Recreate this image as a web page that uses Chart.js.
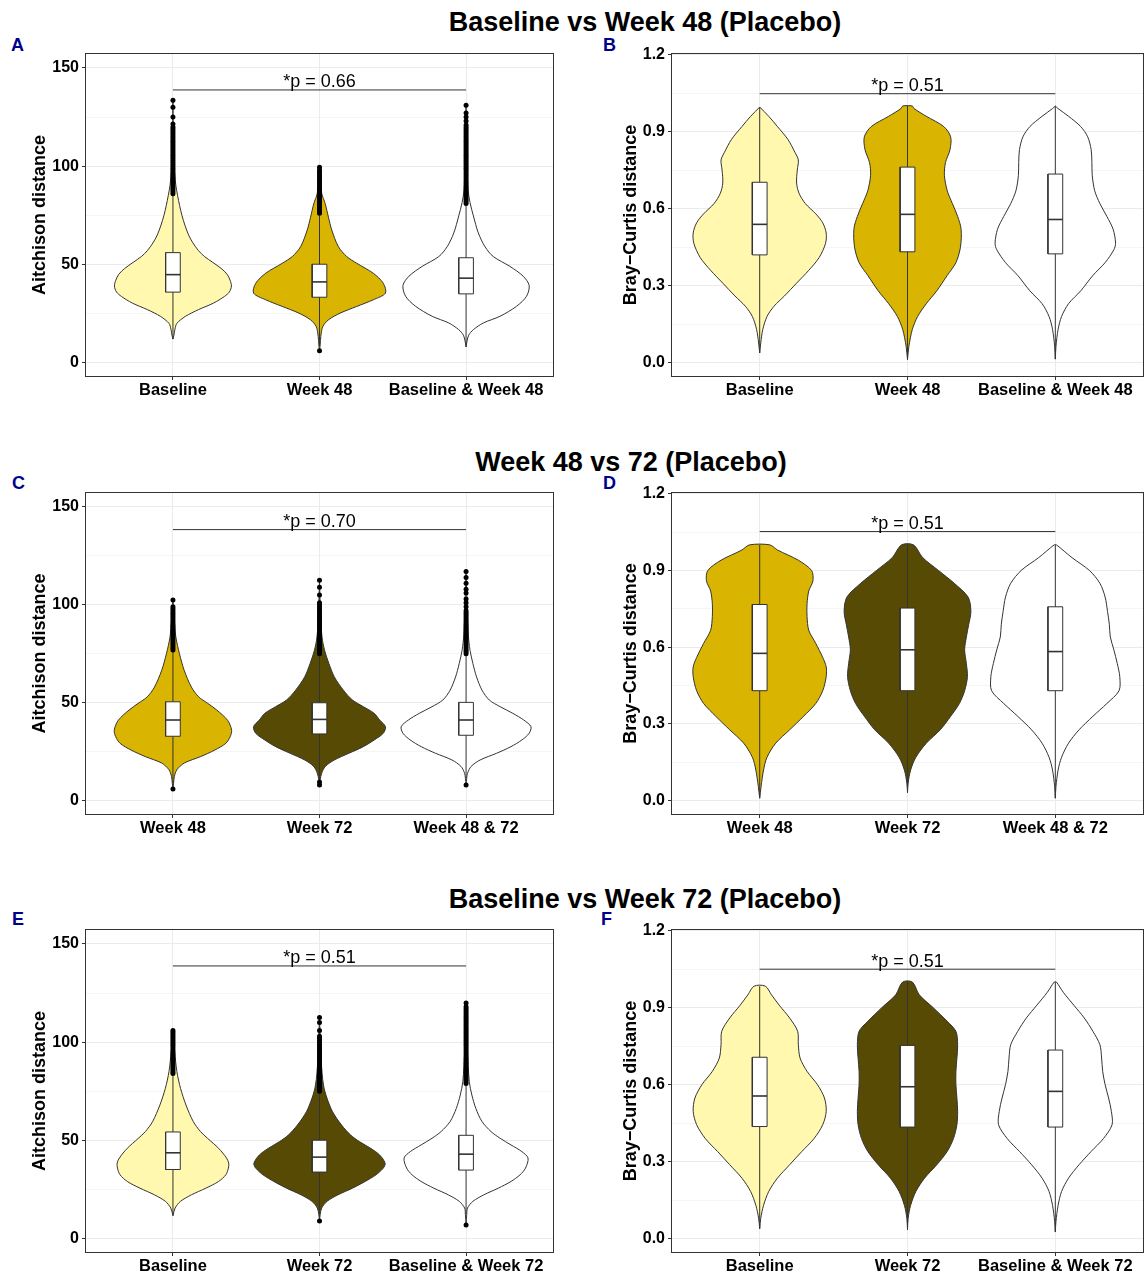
<!DOCTYPE html>
<html>
<head>
<meta charset="utf-8">
<title>Placebo beta diversity violins</title>
<script src="https://cdn.jsdelivr.net/npm/chart.js@4.4.1/dist/chart.umd.min.js"></script>
<style>
  body { margin: 0; background: #fff; font-family: "Liberation Sans", Arial, Helvetica, sans-serif; }
  #page { position: relative; width: 1145px; height: 1273px; overflow: hidden; background: #fff; }
  .title { position: absolute; width: 800px; text-align: center; font-size: 27px; line-height: 27px; font-weight: bold; color: #000; }
  .tag { position: absolute; font-size: 18px; line-height: 18px; font-weight: bold; color: #00008B; }
  canvas { position: absolute; }
</style>
</head>
<body>
<div id="page">
  <div class="title" style="left:245px;top:9px">Baseline vs Week 48 (Placebo)</div>
  <div class="title" style="left:231px;top:449px">Week 48 vs 72 (Placebo)</div>
  <div class="title" style="left:245px;top:886px">Baseline vs Week 72 (Placebo)</div>

  <div class="tag" style="left:11px;top:36px">A</div>
  <div class="tag" style="left:603px;top:36px">B</div>
  <div class="tag" style="left:12px;top:474px">C</div>
  <div class="tag" style="left:603px;top:474px">D</div>
  <div class="tag" style="left:12px;top:910px">E</div>
  <div class="tag" style="left:601px;top:910px">F</div>

  <canvas id="pA" width="570" height="380" style="left:0;top:30px;width:570px;height:380px"></canvas>
  <canvas id="pB" width="555" height="380" style="left:590px;top:30px;width:555px;height:380px"></canvas>
  <canvas id="pC" width="570" height="380" style="left:0;top:468px;width:570px;height:380px"></canvas>
  <canvas id="pD" width="555" height="380" style="left:590px;top:468px;width:555px;height:380px"></canvas>
  <canvas id="pE" width="570" height="368" style="left:0;top:905px;width:570px;height:368px"></canvas>
  <canvas id="pF" width="555" height="368" style="left:590px;top:905px;width:555px;height:368px"></canvas>
</div>

<script>
// ---- axis ticks / categories
var aitchTicks = [0, 25, 50, 75, 100, 125, 150];
var brayTicks = [0, 0.15, 0.3, 0.45, 0.6, 0.75, 0.9, 1.05, 1.2];
var groupsA = ['Baseline', 'Week 48', 'Baseline & Week 48'];
var groupsC = ['Week 48', 'Week 72', 'Week 48 & 72'];
var groupsE = ['Baseline', 'Week 72', 'Baseline & Week 72'];

// ---- violin outlines: y = distance, w = relative density (1 = widest violin)
// panel A (Aitchison, baseline vs week 48)
var vA1y = [12, 14, 17, 20, 23.5, 27, 30.3, 33.7, 36, 39, 42, 45, 48, 51, 54, 57, 61, 65, 70, 75, 80, 85, 90, 95, 100, 110, 120, 133.5];
var vA1w = [0, .015, .03, .06, .186, .388, .615, .781, .856, .887, .866, .821, .73, .605, .479, .388, .302, .237, .181, .136, .101, .071, .045, .03, .02, .01, .005, 0];
var vA2y = [6, 9, 13.4, 18.4, 21.8, 25.2, 28.6, 32, 35.4, 40.4, 45.5, 50.6, 54, 59, 67.5, 74, 81, 86, 92, 99.7];
var vA2w = [0, .01, .02, .05, .136, .312, .564, .816, 1, .967, .816, .564, .413, .287, .186, .136, .086, .035, .02, 0];
var vA3y = [8, 11, 14, 16.8, 20.2, 23.6, 28.7, 33.8, 39.3, 44, 49, 54, 59, 66, 74.7, 81.5, 88, 100, 115, 130.8];
var vA3w = [0, .015, .04, .111, .262, .514, .766, .917, .957, .866, .665, .413, .287, .186, .111, .06, .03, .015, .008, 0];
// panel B (Bray-Curtis, baseline vs week 48)
var vB1y = [0.038, 0.077, 0.13, 0.18, 0.22, 0.26, 0.31, 0.36, 0.41, 0.465, 0.505, 0.545, 0.58, 0.62, 0.66, 0.70, 0.75, 0.79, 0.82, 0.87, 0.92, 0.96, 0.996];
var vB1w = [0, .016, .047, .11, .215, .372, .555, .738, .895, .99, 1, .948, .843, .686, .592, .555, .565, .581, .529, .424, .267, .136, 0];
var vB2y = [0.012, 0.064, 0.13, 0.18, 0.23, 0.28, 0.34, 0.39, 0.45, 0.52, 0.57, 0.62, 0.67, 0.73, 0.78, 0.83, 0.88, 0.92, 0.96, 0.99, 1.0];
var vB2w = [0, .021, .073, .152, .283, .44, .597, .728, .796, .806, .754, .675, .597, .555, .571, .639, .649, .545, .283, .099, .073];
var vB3y = [0.014, 0.064, 0.13, 0.18, 0.23, 0.28, 0.34, 0.39, 0.44, 0.466, 0.52, 0.57, 0.62, 0.67, 0.73, 0.78, 0.83, 0.88, 0.92, 0.96, 0.99, 1.0];
var vB3w = [0, .01, .042, .094, .199, .382, .565, .749, .88, .906, .869, .775, .67, .592, .555, .55, .539, .487, .382, .199, .042, 0];
// panel C (Aitchison, week 48 vs 72)
var vC1y = [6, 9, 12.4, 15.8, 19.2, 22.5, 25.9, 29.3, 32.7, 36, 41, 46.3, 49.7, 53, 58, 66.6, 75, 83.6, 92, 102.5];
var vC1w = [0, .01, .022, .06, .17, .418, .637, .802, .868, .89, .83, .665, .527, .39, .28, .17, .099, .044, .022, 0];
var vC2y = [8, 10.7, 14, 17.5, 20.8, 24.2, 27.6, 31, 34.4, 37.8, 41.2, 44.6, 48, 51.4, 56.4, 63.2, 70, 76.8, 83.6, 95, 112.5];
var vC2w = [0, .01, .033, .088, .225, .445, .665, .83, .967, 1, .912, .83, .665, .5, .363, .225, .143, .077, .038, .016, 0];
var vC3y = [8, 11.5, 14, 17.5, 20.8, 24.2, 27.6, 31, 34.4, 37.8, 41.2, 44.6, 48, 51.4, 56.4, 63.2, 70, 76.8, 85, 100, 117];
var vC3w = [0, .01, .022, .077, .214, .462, .681, .846, .956, .984, .874, .709, .516, .352, .242, .159, .104, .06, .033, .016, 0];
// panel D (Bray-Curtis, week 48 vs 72)
var vD1y = [0.01, 0.056, 0.12, 0.17, 0.225, 0.277, 0.33, 0.38, 0.43, 0.485, 0.523, 0.56, 0.615, 0.666, 0.72, 0.77, 0.82, 0.86, 0.90, 0.94, 0.98, 1.0];
var vD1w = [0, .021, .058, .11, .241, .45, .66, .843, .948, 1, 1, .948, .843, .738, .712, .712, .738, .801, .78, .581, .267, .152];
var vD2y = [0.032, 0.069, 0.12, 0.17, 0.225, 0.277, 0.33, 0.38, 0.43, 0.485, 0.536, 0.59, 0.64, 0.69, 0.74, 0.796, 0.85, 0.9, 0.95, 1.0];
var vD2w = [0, .01, .047, .126, .283, .492, .649, .78, .859, .901, .885, .859, .885, .921, .953, .911, .702, .466, .23, .089];
var vD3y = [0.01, 0.056, 0.12, 0.17, 0.225, 0.277, 0.33, 0.38, 0.43, 0.485, 0.536, 0.59, 0.64, 0.69, 0.74, 0.796, 0.85, 0.9, 0.95, 1.0];
var vD3w = [0, .01, .042, .094, .199, .356, .565, .775, .958, .969, .932, .88, .827, .812, .785, .749, .67, .513, .251, .016];
// panel E (Aitchison, baseline vs week 72)
var vE1y = [11.7, 15.6, 19, 22.3, 25.7, 29.1, 32.5, 35.9, 38.4, 41, 46, 51, 54.5, 59.6, 68, 76.5, 85, 95, 106.4];
var vE1w = [0, .033, .115, .28, .5, .692, .802, .841, .846, .813, .692, .527, .418, .308, .198, .115, .06, .027, 0];
var vE2y = [9, 12.2, 15.6, 19, 22.3, 25.7, 29.1, 32.5, 35.9, 38.4, 42.6, 46, 49.3, 52.7, 57.8, 64.6, 71.4, 78.2, 90, 112.5];
var vE2w = [0, .01, .033, .115, .28, .5, .692, .857, .967, .995, .912, .775, .61, .473, .335, .198, .115, .06, .027, 0];
var vE3y = [7, 12.2, 15.6, 19, 22.3, 25.7, 29.1, 32.5, 35.9, 41, 44.3, 47.7, 51.1, 54.5, 59.6, 66.3, 73.1, 79.9, 95, 120];
var vE3w = [0, .01, .022, .104, .269, .489, .681, .819, .901, .94, .846, .681, .516, .379, .242, .148, .088, .049, .022, 0];
// panel F (Bray-Curtis, baseline vs week 72)
var vF1y = [0.039, 0.08, 0.13, 0.184, 0.236, 0.288, 0.34, 0.39, 0.444, 0.496, 0.548, 0.6, 0.652, 0.704, 0.756, 0.808, 0.86, 0.91, 0.95, 0.984];
var vF1w = [0, .016, .058, .136, .267, .45, .634, .817, .948, 1, .974, .869, .712, .607, .581, .571, .45, .293, .178, .084];
var vF2y = [0.035, 0.08, 0.13, 0.184, 0.236, 0.288, 0.34, 0.39, 0.444, 0.496, 0.548, 0.6, 0.652, 0.704, 0.756, 0.808, 0.847, 0.9, 0.95, 1.0];
var vF2w = [0, .01, .047, .126, .257, .44, .597, .691, .743, .754, .743, .728, .728, .743, .754, .728, .597, .387, .178, .073];
var vF3y = [0.026, 0.068, 0.13, 0.184, 0.236, 0.288, 0.34, 0.39, 0.444, 0.496, 0.548, 0.6, 0.652, 0.704, 0.756, 0.808, 0.86, 0.91, 0.96, 1.0];
var vF3w = [0, .01, .042, .094, .199, .356, .539, .723, .853, .843, .801, .749, .712, .696, .67, .565, .435, .277, .12, .016];

// ---- box plot stats (q1, median, q3, whisker ends)
var aQ1 = [35.9, 33.3, 35.0], aMed = [44.8, 41.1, 43.0], aQ3 = [56.0, 50.1, 53.4], aLo = [12, 8.5, 8], aHi = [85, 75, 80.5];
var bQ1 = [0.42, 0.432, 0.424], bMed = [0.539, 0.578, 0.558], bQ3 = [0.703, 0.762, 0.735], bLo = [0.038, 0.012, 0.014], bHi = [0.996, 1.0, 1.0];
var cQ1 = [32.9, 34.1, 33.4], cMed = [41.2, 41.5, 41.2], cQ3 = [50.5, 50.0, 50.2], cLo = [9, 10.7, 11.5], cHi = [76.5, 74.5, 74.5];
var dQ1 = [0.43, 0.43, 0.43], dMed = [0.576, 0.59, 0.583], dQ3 = [0.767, 0.753, 0.758], dLo = [0.01, 0.032, 0.01], dHi = [1.0, 1.0, 1.0];
var eQ1 = [35.2, 33.9, 34.9], eMed = [43.7, 41.5, 43.0], eQ3 = [54.3, 50.1, 52.6], eLo = [11.7, 12.2, 12.2], eHi = [83, 74.5, 78.5];
var fQ1 = [0.437, 0.435, 0.435], fMed = [0.556, 0.592, 0.574], fQ3 = [0.707, 0.753, 0.735], fLo = [0.039, 0.035, 0.026], fHi = [0.984, 1.0, 1.0];

// ---- outliers
var aOut1 = [86, 87, 88, 89, 90, 91, 92, 93, 94, 95, 96, 97, 98, 99, 100, 101, 102, 103, 104, 105, 106, 107, 108, 109, 110,
  111, 112, 113, 114, 115, 116, 117, 118, 119, 120, 121.5, 125, 130, 133.5];
var aOut2 = [6, 76, 77, 78, 79, 80, 81, 82, 83, 84, 85, 86, 87, 88, 89, 90, 91, 92, 93, 94, 95, 96, 97, 98, 99.5];
var aOut3 = [81, 82, 83, 84, 85, 86, 87, 88, 89, 90, 91, 92, 93, 94, 95, 96, 97, 98, 99, 100, 101, 102, 103, 104, 105, 106,
  107, 108, 109, 110, 111, 112, 113, 114, 115, 116, 117, 118, 119, 120, 121, 123, 125, 127, 131];
var cOut1 = [6, 77, 78, 79, 80, 81, 82, 83, 84, 85, 86, 87, 88, 89, 90, 91, 92, 93, 94, 95, 96, 97, 98, 99, 102.5];
var cOut2 = [8, 9.5, 75, 76, 77, 78, 79, 80, 81, 82, 83, 84, 85, 86, 87, 88, 89, 90, 91, 92, 93, 94, 95, 96, 97, 98, 99,
  100, 101, 105, 109, 112.5];
var cOut3 = [8, 75, 76, 77, 78, 79, 80, 81, 82, 83, 84, 85, 86, 87, 88, 89, 90, 91, 92, 93, 94, 95, 96, 97, 99, 101, 103,
  106, 108, 111, 114, 117];
var eOut1 = [84, 85, 86, 87, 88, 89, 90, 91, 92, 93, 94, 95, 96, 97, 98, 99, 100, 101, 102, 103, 104, 105, 106];
var eOut2 = [9, 75, 76, 77, 78, 79, 80, 81, 82, 83, 84, 85, 86, 87, 88, 89, 90, 91, 92, 93, 94, 95, 96, 97, 98, 99, 100,
  101, 102, 103, 106, 110, 112.5];
var eOut3 = [7, 79, 80, 81, 82, 83, 84, 85, 86, 87, 88, 89, 90, 91, 92, 93, 94, 95, 96, 97, 98, 99, 100, 101, 102, 103,
  104, 105, 106, 107, 108, 109, 110, 111, 112, 113, 114, 115, 116, 117, 118, 120];

// ---- significance bars
var pLabels = ['*p = 0.66', '*p = 0.51', '*p = 0.70', '*p = 0.51', '*p = 0.51', '*p = 0.51'];
var pBarY = [138.8, 1.048, 138.4, 1.052, 138.8, 1.05];

var colBase = '#FFF8AE', colW48 = '#D9B400', colW72 = '#574A05', colBoth = '#FFFFFF';
var FONT = '"Liberation Sans", Arial, Helvetica, sans-serif';
var HALF = 0.45;   // max violin half width (category units)
var BOX = 0.05;    // box half width

var frame = {
  id: 'frame',
  afterDatasetsDraw: function(chart) {
    var ctx = chart.ctx, a = chart.chartArea, o = chart.options.plugins.frame;
    var x = chart.scales.x, y = chart.scales.y;
    ctx.save();
    ctx.strokeStyle = '#333';
    ctx.lineWidth = 1;
    ctx.strokeRect(Math.round(a.left) + 0.5, Math.round(a.top) + 0.5, Math.round(a.width) - 1, Math.round(a.height) - 1);
    ctx.fillStyle = '#000';
    ctx.font = '18px ' + FONT;
    ctx.textAlign = 'center';
    ctx.textBaseline = 'alphabetic';
    ctx.fillText(o.label, x.getPixelForValue(2), y.getPixelForValue(o.bar) - 2.5);
    ctx.restore();
  }
};

function makePanel(id, p) {
  var ds = [];
  p.vy.forEach(function(ys, i) {
    var cx = i + 1, ws = p.vw[i];
    var left = ys.map(function(v, k) { return {x: cx - ws[k] * HALF, y: v}; });
    var right = ys.map(function(v, k) { return {x: cx + ws[k] * HALF, y: v}; }).reverse();
    ds.push({data: left.concat(right, [left[0]]), backgroundColor: p.fills[i], borderColor: '#333',
      borderWidth: 1, fill: 'shape', tension: 0.3, pointRadius: 0, order: 5});
    ds.push({data: [{x: cx, y: p.lo[i]}, {x: cx, y: p.hi[i]}], borderColor: '#333', borderWidth: 1,
      fill: false, pointRadius: 0, order: 4});
    var bl = cx - BOX, br = cx + BOX;
    ds.push({data: [{x: bl, y: p.q1[i]}, {x: br, y: p.q1[i]}, {x: br, y: p.q3[i]}, {x: bl, y: p.q3[i]}, {x: bl, y: p.q1[i]}],
      backgroundColor: '#fff', borderColor: '#333', borderWidth: 1, fill: 'shape', tension: 0, pointRadius: 0, order: 3});
    ds.push({data: [{x: bl, y: p.med[i]}, {x: br, y: p.med[i]}], borderColor: '#333', borderWidth: 1.6,
      fill: false, pointRadius: 0, order: 2});
    if (p.out) {
      ds.push({data: p.out[i].map(function(v) { return {x: cx, y: v}; }), showLine: false, pointRadius: 2.5,
        pointBackgroundColor: '#000', pointBorderWidth: 0, order: 1});
    }
  });
  ds.push({data: [{x: 1, y: p.bar}, {x: 3, y: p.bar}], borderColor: '#333', borderWidth: 1, fill: false, pointRadius: 0, order: 0});

  var tickFont = {family: FONT, size: 16, weight: 'bold'};
  return new Chart(document.getElementById(id), {
    type: 'line',
    data: {datasets: ds},
    plugins: [frame],
    options: {
      responsive: false,
      animation: false,
      events: [],
      layout: {padding: {left: 0, right: p.padR, top: p.padT, bottom: p.padB}},
      plugins: {legend: {display: false}, tooltip: {enabled: false}, frame: {label: p.label, bar: p.bar}},
      scales: {
        x: {
          type: 'linear', min: 0.4, max: 3.6,
          afterBuildTicks: function(s) { s.ticks = [1, 2, 3].map(function(v) { return {value: v}; }); },
          afterFit: function(s) { s.height = p.xH; },
          grid: {color: '#ebebeb', lineWidth: 1, tickColor: '#333', tickLength: 3},
          border: {display: false},
          ticks: {color: '#000', font: {family: FONT, size: 16.5, weight: 'bold'}, padding: 1, autoSkip: false, maxRotation: 0,
            callback: function(v, i) { return p.groups[i]; }}
        },
        y: {
          type: 'linear', min: p.ymin, max: p.ymax,
          afterBuildTicks: function(s) { s.ticks = p.ticks.map(function(v) { return {value: v}; }); },
          afterFit: function(s) { s.width = p.yW; },
          grid: {
            color: '#ebebeb', tickLength: 3,
            lineWidth: function(c) { return c.tick && p.isMajor(c.tick.value) ? 1 : 0.5; },
            tickColor: function(c) { return c.tick && p.isMajor(c.tick.value) ? '#333' : 'rgba(0,0,0,0)'; }
          },
          border: {display: false},
          title: {display: true, text: p.ytitle, color: '#000', font: {family: FONT, size: 18, weight: 'bold'},
            padding: {top: p.titlePad, bottom: 0}},
          ticks: {color: '#000', font: tickFont, padding: 3, autoSkip: false,
            callback: function(v) { return p.isMajor(v) ? p.fmt(v) : ''; }}
        }
      }
    }
  });
}

function aitchMajor(v) { return Math.round(v) % 50 === 0; }
function brayMajor(v) { return Math.round(v * 100) % 30 === 0; }
function aitchFmt(v) { return String(v); }
function brayFmt(v) { return v.toFixed(1); }

var leftAx = {ticks: aitchTicks, ymin: -7.3, ymax: 157.6, isMajor: aitchMajor, fmt: aitchFmt, ytitle: 'Aitchison distance', yW: 85, titlePad: 29, padR: 16};
var rightAx = {ticks: brayTicks, ymin: -0.0557, ymax: 1.2066, isMajor: brayMajor, fmt: brayFmt, ytitle: 'Bray\u2212Curtis distance', yW: 81, titlePad: 30, padR: 1};

function withAxis(ax, extra) {
  var o = {};
  Object.keys(ax).forEach(function(k) { o[k] = ax[k]; });
  Object.keys(extra).forEach(function(k) { o[k] = extra[k]; });
  return o;
}

window.onload = function() {
  makePanel('pA', withAxis(leftAx, {groups: groupsA, fills: [colBase, colW48, colBoth], vy: [vA1y, vA2y, vA3y], vw: [vA1w, vA2w, vA3w],
    q1: aQ1, med: aMed, q3: aQ3, lo: aLo, hi: aHi, out: [aOut1, aOut2, aOut3], label: pLabels[0], bar: pBarY[0], padT: 23, padB: 3, xH: 30}));
  makePanel('pB', withAxis(rightAx, {groups: groupsA, fills: [colBase, colW48, colBoth], vy: [vB1y, vB2y, vB3y], vw: [vB1w, vB2w, vB3w],
    q1: bQ1, med: bMed, q3: bQ3, lo: bLo, hi: bHi, out: null, label: pLabels[1], bar: pBarY[1], padT: 23, padB: 3, xH: 30}));
  makePanel('pC', withAxis(leftAx, {groups: groupsC, fills: [colW48, colW72, colBoth], vy: [vC1y, vC2y, vC3y], vw: [vC1w, vC2w, vC3w],
    q1: cQ1, med: cMed, q3: cQ3, lo: cLo, hi: cHi, out: [cOut1, cOut2, cOut3], label: pLabels[2], bar: pBarY[2], padT: 24, padB: 3, xH: 30}));
  makePanel('pD', withAxis(rightAx, {groups: groupsC, fills: [colW48, colW72, colBoth], vy: [vD1y, vD2y, vD3y], vw: [vD1w, vD2w, vD3w],
    q1: dQ1, med: dMed, q3: dQ3, lo: dLo, hi: dHi, out: null, label: pLabels[3], bar: pBarY[3], padT: 24, padB: 3, xH: 30}));
  makePanel('pE', withAxis(leftAx, {groups: groupsE, fills: [colBase, colW72, colBoth], vy: [vE1y, vE2y, vE3y], vw: [vE1w, vE2w, vE3w],
    q1: eQ1, med: eMed, q3: eQ3, lo: eLo, hi: eHi, out: [eOut1, eOut2, eOut3], label: pLabels[4], bar: pBarY[4], padT: 24, padB: 0, xH: 20}));
  makePanel('pF', withAxis(rightAx, {groups: groupsE, fills: [colBase, colW72, colBoth], vy: [vF1y, vF2y, vF3y], vw: [vF1w, vF2w, vF3w],
    q1: fQ1, med: fMed, q3: fQ3, lo: fLo, hi: fHi, out: null, label: pLabels[5], bar: pBarY[5], padT: 24, padB: 0, xH: 20}));
};
</script>
</body>
</html>
